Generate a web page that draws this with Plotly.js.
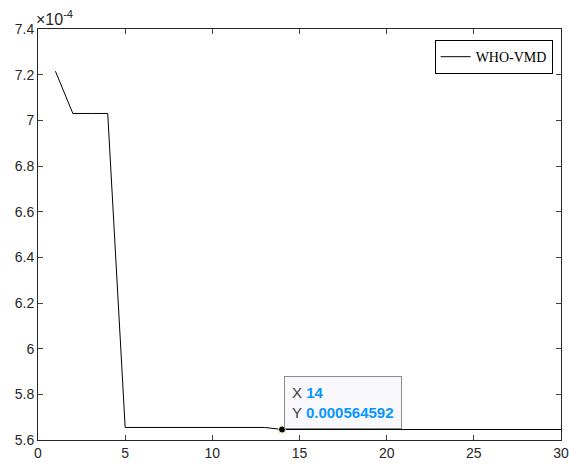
<!DOCTYPE html>
<html><head><meta charset="utf-8">
<script src="https://cdn.plot.ly/plotly-3.0.1.min.js"></script>
<style>html,body{margin:0;padding:0;background:#fff}#c{width:569px;height:465px}</style>
</head><body><div id="c"></div>
<script>
const iterations = [1,2,3,4,5,6,7,8,9,10,11,12,13,14,15,16,17,18,19,20,21,22,23,24,25,26,27,28,29,30];
const fitness = [7.215e-4,7.03e-4,7.03e-4,7.03e-4,5.655e-4,5.655e-4,5.655e-4,5.655e-4,5.655e-4,5.655e-4,5.655e-4,5.655e-4,5.655e-4,
  5.64592e-4,5.64592e-4,5.64592e-4,5.64592e-4,5.64592e-4,5.64592e-4,5.64592e-4,5.64592e-4,5.64592e-4,5.64592e-4,5.64592e-4,5.64592e-4,5.64592e-4,5.64592e-4,5.64592e-4,5.64592e-4,5.64592e-4];
const seriesName = 'WHO-VMD';
const yTickVals = [5.6e-4,5.8e-4,6.0e-4,6.2e-4,6.4e-4,6.6e-4,6.8e-4,7.0e-4,7.2e-4,7.4e-4];
const yTickText = ['5.6','5.8','6','6.2','6.4','6.6','6.8','7','7.2','7.4'];
const tipX = 14;
const tipY = 0.000564592;

const axisCol = '#262626';
const traces = [
  {x: iterations, y: fitness, type:'scatter', mode:'lines', name: seriesName,
   line:{color:'#000000', width:1}},
  {x:[tipX], y:[tipY], type:'scatter', mode:'markers', showlegend:false,
   marker:{color:'#000', size:7, line:{color:'#f5f0b0', width:1}}}
];
const layout = {
  width:569, height:465,
  margin:{l:38, r:8, t:29, b:25},
  paper_bgcolor:'#fff', plot_bgcolor:'#fff',
  font:{family:'Liberation Sans, Arial, sans-serif', size:14, color:axisCol},
  xaxis:{range:[0,30], tickvals:[0,5,10,15,20,25,30], ticks:'inside', ticklen:5,
    showline:true, linecolor:axisCol, linewidth:1, mirror:'ticks', showgrid:false, zeroline:false,
    tickfont:{size:14, color:axisCol}},
  yaxis:{range:[5.6e-4,7.4e-4], tickvals:yTickVals, ticktext:yTickText, ticks:'inside', ticklen:5,
    showline:true, linecolor:axisCol, linewidth:1, mirror:'ticks', showgrid:false, zeroline:false,
    tickfont:{size:14, color:axisCol}},
  showlegend:true,
  legend:{x:0.984, y:0.973, xanchor:'right', yanchor:'top', bgcolor:'#fff',
    bordercolor:'#000', borderwidth:1, tracegroupgap:0,
    font:{family:'Liberation Serif, Times New Roman, serif', size:14, color:'#000'}},
  annotations:[
    {xref:'paper', yref:'paper', x:0, y:1, xanchor:'left', yanchor:'bottom', showarrow:false,
     xshift:-4, yshift:-1,
     text:'×10<sup>-4</sup>', font:{size:16, color:axisCol}},
    {x:tipX, y:tipY, xanchor:'left', yanchor:'bottom', showarrow:false, align:'left',
     xshift:2, yshift:1,
     text:'<span style="color:#404040">X</span> <b style="color:#0a96ff">14</b><br><span style="color:#404040">Y</span> <b style="color:#0a96ff">0.000564592</b>',
     bgcolor:'#f8f8fd', bordercolor:'#8c8c8c', borderwidth:1, borderpad:7,
     font:{size:15}}
  ]
};
Plotly.newPlot('c', traces, layout, {displayModeBar:false, staticPlot:true});
</script></body></html>
